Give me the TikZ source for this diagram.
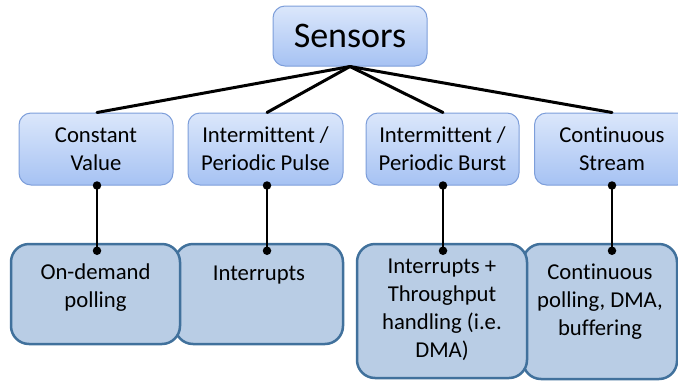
\documentclass[tikz,border=0pt]{standalone}
\usepackage{fontspec}
\setmainfont{Carlito}[Ligatures=NoCommon]
\usetikzlibrary{calc}
\definecolor{catTop}{RGB}{219,231,251}
\definecolor{catBot}{RGB}{166,194,243}
\definecolor{catLine}{RGB}{125,158,218}
\definecolor{leafFill}{RGB}{185,205,229}
\definecolor{leafLine}{RGB}{65,113,156}
\tikzset{
  catbox/.style={draw=catLine, line width=1pt, rounded corners=12pt,
    top color=catTop, bottom color=catBot, align=center,
    font=\fontsize{22.7}{28}\selectfont, inner sep=0pt},
  leafbox/.style={draw=leafLine, line width=2.5pt, rounded corners=18pt,
    fill=leafFill, inner sep=0pt},
  leaftext/.style={align=center, font=\fontsize{22.7}{28}\selectfont, inner sep=0pt},
  branch/.style={line width=3pt, line cap=round},
  stem/.style={line width=2.5pt},
  knob/.style={fill=black, circle, inner sep=0pt, minimum size=8.5pt},
}
\begin{document}
\begin{tikzpicture}[x=1pt, y=-1pt]
  \useasboundingbox (0,0) rectangle (678,381);
  \clip (0,0) rectangle (678,381);

  % root
  \node[catbox, minimum width=154pt, minimum height=60pt,
        font=\fontsize{36}{40}\selectfont] (root) at (350,36) {Sensors};

  % categories
  \node[catbox, minimum width=154pt, minimum height=72pt] (c1) at (96,149) {Constant\\Value};
  \node[catbox, minimum width=155pt, minimum height=72pt] (c2) at (265.5,149) {Intermittent /\\Periodic Pulse};
  \node[catbox, minimum width=153pt, minimum height=72pt] (c3) at (442.5,149) {Intermittent /\\Periodic Burst};
  \node[catbox, minimum width=155pt, minimum height=72pt] (c4) at (612,149) {Continuous\\Stream};

  % handling boxes (drawn so the left neighbour of each pair lies on top)
  \node[leafbox, minimum width=168pt, minimum height=100pt] (b2) at (259,294) {};
  \node[leafbox, minimum width=169pt, minimum height=100pt] (b1) at (95.5,294) {};
  \node[leafbox, minimum width=154pt, minimum height=135pt] (b4) at (600,311.5) {};
  \node[leafbox, minimum width=170pt, minimum height=134pt] (b3) at (442,311) {};

  \node[leaftext] (t1) at (95.5,288) {On-demand\\polling};
  \node[leaftext] (t2) at (259,275) {Interrupts};
  \node[leaftext] (t3) at (442,309.5) {Interrupts +\\Throughput\\handling (i.e.\\DMA)};
  \node[leaftext] (t4) at (600,302) {Continuous\\polling, DMA,\\buffering};

  % root to categories
  \foreach \c/\x in {c1/97, c2/267, c3/443, c4/612}
    \draw[branch] (root.south) -- (\x,0 |- \c.north);

  % categories to handling boxes
  \foreach \c/\b/\x in {c1/b1/97, c2/b2/267, c3/b3/443, c4/b4/612} {
    \coordinate (\c-up) at (\x,0 |- \c.south);
    \coordinate (\c-dn) at ($(\x,0 |- \b.north)+(0,8)$);
    \draw[stem] (\c-up) -- (\c-dn);
    \node[knob] at (\c-up) {};
    \node[knob] at (\c-dn) {};
  }
\end{tikzpicture}
\end{document}
